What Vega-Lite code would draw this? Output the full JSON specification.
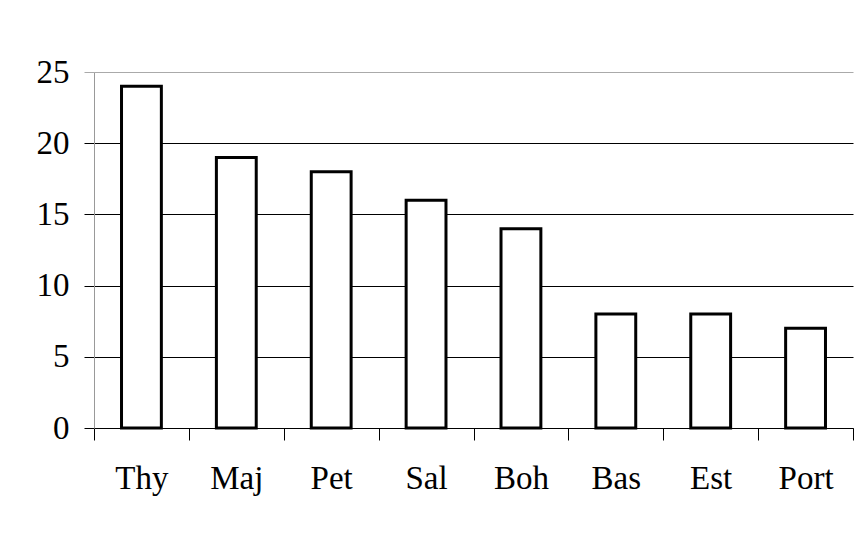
{
  "$schema": "https://vega.github.io/schema/vega-lite/v6.json",
  "width": 759,
  "height": 356,
  "autosize": {"type": "none"},
  "padding": {"left": 94, "top": 72, "right": 10, "bottom": 109},
  "background": "white",
  "config": {
    "view": {"stroke": null},
    "font": "Liberation Serif"
  },
  "data": {
    "values": [
      {"name": "Thy", "value": 24},
      {"name": "Maj", "value": 19},
      {"name": "Pet", "value": 18},
      {"name": "Sal", "value": 16},
      {"name": "Boh", "value": 14},
      {"name": "Bas", "value": 8},
      {"name": "Est", "value": 8},
      {"name": "Port", "value": 7}
    ]
  },
  "mark": {"type": "bar", "fill": "white", "stroke": "black", "strokeWidth": 3, "width": {"band": 0.42}},
  "encoding": {
    "x": {
      "field": "name",
      "type": "nominal",
      "sort": null,
      "scale": {"paddingInner": 0, "paddingOuter": 0},
      "axis": {
        "title": null,
        "labelAngle": 0,
        "labelFont": "Liberation Serif",
        "labelFontSize": 33,
        "labelColor": "black",
        "labelPadding": 22,
        "domainColor": "black",
        "domainWidth": 1,
        "tickColor": "black",
        "tickSize": 12,
        "tickBand": "extent",
        "grid": false
      }
    },
    "y": {
      "field": "value",
      "type": "quantitative",
      "scale": {"domain": [0, 25], "nice": false},
      "axis": {
        "title": null,
        "values": [0, 5, 10, 15, 20, 25],
        "labelFont": "Liberation Serif",
        "labelFontSize": 33,
        "labelColor": "black",
        "labelPadding": 15,
        "domainColor": "#999999",
        "tickSize": 10,
        "tickColor": {"condition": {"test": "datum.value === 25", "value": "#aaaaaa"}, "value": "black"},
        "grid": true,
        "gridColor": {"condition": {"test": "datum.value === 25", "value": "#aaaaaa"}, "value": "black"},
        "gridOpacity": 1,
        "gridWidth": 1
      }
    }
  }
}
